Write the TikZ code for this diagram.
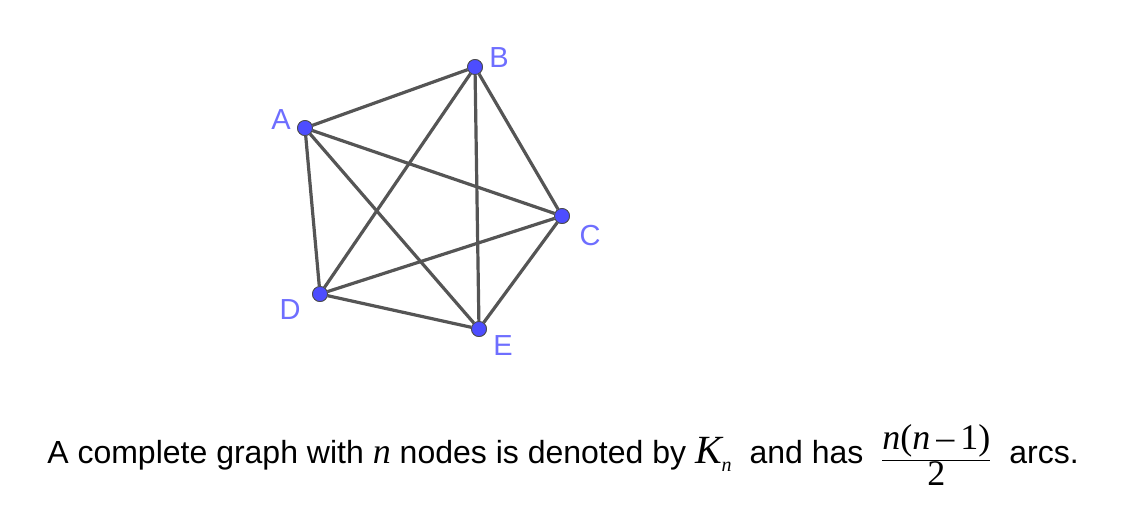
\documentclass[tikz,border=0pt]{standalone}
\usepackage{fontspec}
\setmainfont{Liberation Sans}
\newfontfamily\mathserif{Liberation Serif}
\newcommand{\vi}[1]{\hbox{\mathserif\itshape #1}}
\newcommand{\vu}[1]{\hbox{\mathserif #1}}
\definecolor{vtxblue}{RGB}{77,77,255}
\definecolor{lblblue}{RGB}{110,110,255}
\definecolor{edgegray}{RGB}{85,85,85}
\begin{document}
\begin{tikzpicture}[x=1pt, y=-1pt,
    vtx/.style={circle, fill=vtxblue, draw=black!70, line width=0.8pt, inner sep=0pt, minimum size=15pt},
    lbl/.style={text=lblblue, font=\fontsize{29}{32}\selectfont},
    arc/.style={edgegray, line width=3.2pt}]
  \useasboundingbox (0,0) rectangle (1132,523);
  \node[vtx] (A) at (305,128) {};
  \node[vtx] (B) at (475,67) {};
  \node[vtx] (C) at (562,216) {};
  \node[vtx] (D) at (320,294) {};
  \node[vtx] (E) at (479,329) {};
  % edges of K5
  \foreach \u/\v in {A/B,A/C,A/D,A/E,B/C,B/D,B/E,C/D,C/E,D/E}
    \draw[arc] (\u) -- (\v);
  \foreach \p in {A,B,C,D,E}
    \node[vtx] at (\p) {};
  \node[lbl] (la) at (281,120) {A};
  \node[lbl] (lb) at (499,58) {B};
  \node[lbl] (lc) at (590,236) {C};
  \node[lbl] (ld) at (290,310) {D};
  \node[lbl] (le) at (503,346) {E};
  \node[font=\fontsize{32}{38}\selectfont, anchor=base] (cap) at (563,463)
    {A complete graph with {\mathserif\itshape\fontsize{36}{36}\selectfont n} nodes is denoted by
     {\mathserif\itshape\fontsize{40}{40}\selectfont K}\raisebox{-8pt}{\mathserif\itshape\fontsize{20}{20}\selectfont n}\ \ and has\ \ 
     \raisebox{-0.1em}{\fontsize{36}{40}\selectfont$\displaystyle\frac{\vi{n}\vu{(}\vi{n}\vu{\,\textendash\,1)}}{\vu{2}}$}\ \ arcs.};
\end{tikzpicture}
\end{document}
